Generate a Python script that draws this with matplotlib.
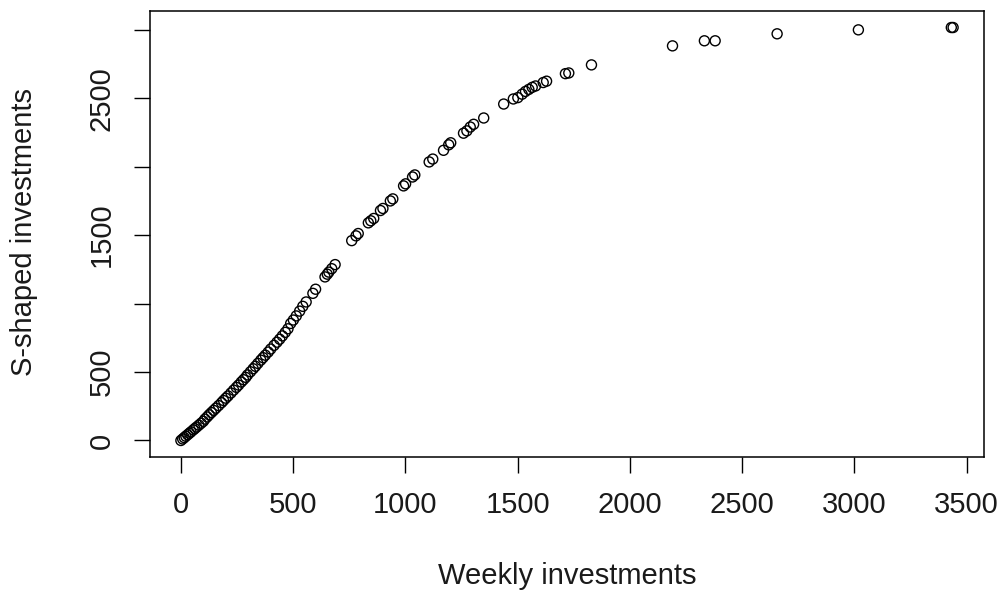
import matplotlib
matplotlib.use("Agg")
import matplotlib.pyplot as plt

weekly = [0, 8, 15, 22, 30, 38, 45, 55, 62, 70, 80, 90, 100, 107, 117, 126, 136, 146, 156, 168,
          181, 190, 200, 210, 223, 235, 247, 257, 269, 279, 289, 297, 310, 322, 332, 343, 356, 366,
          376, 389, 400, 415, 428, 440, 452, 465, 477, 489, 501, 514, 529, 543, 558, 588, 600, 642,
          652, 659, 672, 687,
          761, 780, 790, 835, 846, 859, 889, 900, 933, 944, 992, 1001, 1032, 1042, 1106, 1122,
          1170, 1193, 1202, 1259, 1274, 1289, 1304, 1349, 1438, 1481, 1501, 1520, 1535, 1550,
          1565, 1580, 1614, 1629, 1713, 1728, 1829, 2190, 2332, 2380, 2656, 3018, 3432, 3440]
sshaped = [0, 11, 21, 31, 42, 53, 63, 77, 87, 98, 112, 126, 140, 156, 172, 188, 204, 220, 236, 255,
           276, 292, 309, 325, 347, 368, 388, 405, 427, 444, 461, 479, 502, 524, 542, 563, 587, 605,
           623, 646, 668, 695, 718, 740, 764, 790, 816, 855, 880, 910, 945, 980, 1012, 1075, 1105, 1195,
           1215, 1230, 1255, 1285,
           1460, 1495, 1512, 1590, 1605, 1622, 1680, 1695, 1750, 1765, 1860, 1875, 1925, 1940, 2035, 2056,
           2120, 2160, 2175, 2245, 2262, 2290, 2310, 2356, 2458, 2495, 2505, 2530, 2550, 2565,
           2580, 2590, 2615, 2625, 2680, 2685, 2744, 2883, 2920, 2920, 2971, 3000, 3017, 3017]

x_ticks = [0, 500, 1000, 1500, 2000, 2500, 3000, 3500]
y_ticks = [0, 500, 1000, 1500, 2000, 2500, 3000]
y_tick_labels = ["0", "500", "", "1500", "", "2500", ""]

plt.rcParams['font.family'] = ['Liberation Sans', 'DejaVu Sans']

fig = plt.figure(figsize=(10.05, 5.94), dpi=100)
ax = fig.add_axes([150/1005, 1 - 457/594, (984-150)/1005, (457-11)/594])
ax.scatter(weekly, sshaped, s=52, facecolors='none', edgecolors='black', linewidths=1.0)

xmin, xmax = min(weekly), max(weekly)
ymin, ymax = min(sshaped), max(sshaped)
ax.set_xlim(xmin - 0.04*(xmax-xmin), xmax + 0.04*(xmax-xmin))
ax.set_ylim(ymin - 0.04*(ymax-ymin), ymax + 0.04*(ymax-ymin))

ax.set_xticks(x_ticks)
ax.set_xticklabels([str(t) for t in x_ticks])
ax.set_yticks(y_ticks)
ax.set_yticklabels(y_tick_labels, rotation=90, va='center')
ax.tick_params(axis='both', length=11.5, width=1, labelsize=21, color='black', labelcolor='#1a1a1a')
ax.tick_params(axis='x', pad=13)
ax.tick_params(axis='y', pad=13)
for s in ax.spines.values():
    s.set_linewidth(1.1)
    s.set_color('black')

fig.text(567/1005, 1 - 576/594, "Weekly investments", ha='center', va='center', fontsize=21, color='#1a1a1a')
fig.text(24/1005, 1 - 232/594, "S-shaped investments", ha='center', va='center', fontsize=21,
         rotation=90, color='#1a1a1a')

fig.savefig("out.png", dpi=100)
